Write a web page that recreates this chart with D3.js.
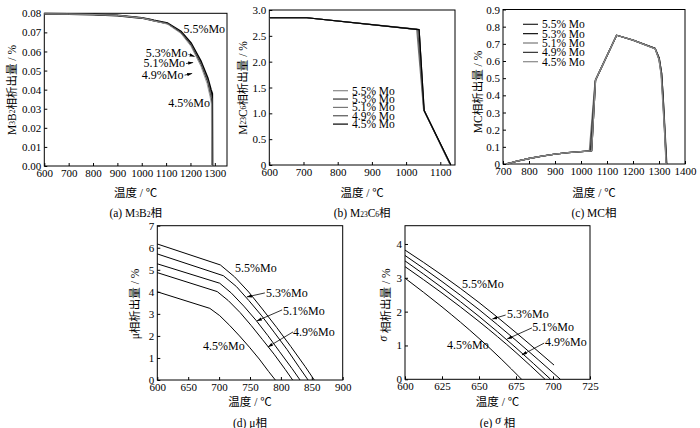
<!DOCTYPE html>
<html><head><meta charset="utf-8">
<script src="https://cdn.jsdelivr.net/npm/d3@7"></script>
<style>
body{margin:0;background:#fff}
text{font-family:"Liberation Serif","Times New Roman","Noto Sans CJK SC",serif;fill:#000}
</style>
</head><body>
<svg id="c" width="700" height="428"></svg>
<script>
// ---------- DATA ----------
const moNames = ["5.5%Mo","5.3%Mo","5.1%Mo","4.9%Mo","4.5%Mo"];
const moLegend = ["5.5% Mo","5.3% Mo","5.1% Mo","4.9% Mo","4.5% Mo"];

// (a) M3B2 phase: [temperature, amount %]
const m3b2_55 = [[600,0.0797],[700,0.0796],[800,0.0794],[900,0.0789],[1000,0.0776],[1032,0.0768],[1050,0.0762],[1106,0.0748],[1161,0.0704],[1202,0.0643],[1243,0.0547],[1271,0.0459],[1284,0.0398],[1289,0.0380],[1290,0]];
const m3b2_53 = [[600,0.0797],[700,0.0796],[800,0.0794],[900,0.0789],[1000,0.0776],[1032,0.0768],[1050,0.0762],[1106,0.0747],[1161,0.0702],[1202,0.0640],[1243,0.0542],[1271,0.0452],[1284,0.0385],[1288,0.0362],[1289,0]];
const m3b2_51 = [[600,0.0797],[700,0.0796],[800,0.0794],[900,0.0789],[1000,0.0776],[1032,0.0768],[1050,0.0761],[1106,0.0746],[1161,0.0700],[1202,0.0637],[1243,0.0537],[1271,0.0445],[1283,0.0378],[1288,0.0350],[1289,0]];
const m3b2_49 = [[600,0.0797],[700,0.0796],[800,0.0794],[900,0.0789],[1000,0.0776],[1032,0.0767],[1050,0.0761],[1106,0.0745],[1161,0.0698],[1202,0.0633],[1243,0.0531],[1270,0.0440],[1282,0.0370],[1287,0.0340],[1288,0]];
const m3b2_45 = [[600,0.0797],[700,0.0796],[800,0.0794],[900,0.0789],[1000,0.0775],[1032,0.0766],[1050,0.0760],[1106,0.0743],[1161,0.0694],[1202,0.0627],[1243,0.0522],[1268,0.0432],[1280,0.0365],[1286,0.0325],[1287,0]];

// (b) M23C6 phase
const m23c6_55 = [[600,2.85],[710,2.85],[1038,2.62],[1053,1.05],[1131,0]];
const m23c6_53 = [[600,2.85],[710,2.85],[1038,2.62],[1052,1.06],[1130,0]];
const m23c6_51 = [[600,2.85],[710,2.85],[1031,2.63],[1051,1.08],[1129,0]];
const m23c6_49 = [[600,2.85],[710,2.85],[1034,2.62],[1052,1.07],[1130,0]];
const m23c6_45 = [[600,2.85],[710,2.85],[1038,2.62],[1053,1.05],[1131,0]];

// (c) MC phase
const mc_55 = [[713,0],[750,0.015],[800,0.032],[850,0.046],[900,0.057],[950,0.066],[1000,0.072],[1041,0.077],[1056,0.49],[1137,0.75],[1200,0.722],[1285,0.674],[1301,0.616],[1310,0.53],[1316,0.39],[1323,0.2],[1330,0]];
const mc_53 = [[713,0],[750,0.015],[800,0.032],[850,0.046],[900,0.057],[950,0.066],[1000,0.072],[1041,0.077],[1056,0.49],[1137,0.75],[1200,0.722],[1285,0.673],[1301,0.614],[1310,0.528],[1316,0.385],[1322,0.2],[1329,0]];
const mc_51 = [[713,0],[750,0.015],[800,0.032],[850,0.046],[900,0.057],[950,0.066],[1000,0.072],[1032,0.076],[1054,0.48],[1137,0.75],[1200,0.722],[1285,0.672],[1300,0.612],[1309,0.525],[1315,0.38],[1322,0.2],[1328,0]];
const mc_49 = [[713,0],[750,0.015],[800,0.032],[850,0.046],[900,0.057],[950,0.066],[1000,0.072],[1036,0.077],[1055,0.485],[1137,0.75],[1200,0.722],[1285,0.672],[1300,0.61],[1309,0.52],[1315,0.375],[1321,0.2],[1328,0]];
const mc_45 = [[713,0],[750,0.015],[800,0.032],[850,0.046],[900,0.057],[950,0.066],[1000,0.072],[1041,0.077],[1056,0.49],[1137,0.75],[1200,0.722],[1285,0.671],[1300,0.608],[1308,0.52],[1314,0.37],[1321,0.2],[1327,0]];

// (d) mu phase
const mu_55 = [[600,6.17],[702,5.22],[725,4.68],[748,3.99],[770,3.22],[793,2.39],[816,1.52],[839,0.62],[854,0]];
const mu_53 = [[600,5.72],[707,4.73],[728,4.24],[748,3.61],[769,2.91],[789,2.17],[810,1.38],[830,0.56],[844,0]];
const mu_51 = [[600,5.27],[701,4.39],[720,3.94],[740,3.35],[760,2.70],[779,2.01],[798,1.28],[818,0.52],[831,0]];
const mu_49 = [[600,4.87],[697,4.01],[715,3.60],[734,3.06],[752,2.47],[770,1.84],[789,1.17],[807,0.48],[819,0]];
const mu_45 = [[600,4.00],[685,3.25],[701,2.92],[717,2.48],[733,2.00],[749,1.49],[765,0.95],[780,0.39],[791,0]];

// (e) sigma phase
const sig_55 = [[600,3.82],[625,3.08],[650,2.27],[675,1.38],[700.7,0.42]];
const sig_53 = [[600,3.66],[625,2.89],[650,2.06],[675,1.15],[705,0]];
const sig_51 = [[600,3.50],[625,2.71],[650,1.86],[675,0.93],[698.4,0]];
const sig_49 = [[600,3.33],[625,2.55],[650,1.71],[675,0.79],[694.6,0]];
const sig_45 = [[600,2.99],[625,2.14],[650,1.21],[665,0.60],[678.8,0]];

// ticks
const aXTicks = [600,700,800,900,1000,1100,1200,1300];
const aYTicks = [0,0.01,0.02,0.03,0.04,0.05,0.06,0.07,0.08];
const bXTicks = [600,700,800,900,1000,1100];
const bYTicks = [0,0.5,1.0,1.5,2.0,2.5,3.0];
const cXTicks = [700,800,900,1000,1100,1200,1300,1400];
const cYTicks = [0,0.1,0.2,0.3,0.4,0.5,0.6,0.7,0.8,0.9];
const dXTicks = [600,650,700,750,800,850,900];
const dYTicks = [0,1,2,3,4,5,6,7];
const eXTicks = [600,625,650,675,700,725];
const eYTicks = [0,1,2,3,4];

// ---------- DRAW ----------
const svg = d3.select("#c");
const defs = svg.append("defs");
defs.append("marker").attr("id","arr").attr("viewBox","0 0 6 4").attr("refX",6).attr("refY",2)
  .attr("markerWidth",5).attr("markerHeight",3.4).attr("markerUnits","userSpaceOnUse").attr("orient","auto")
  .append("path").attr("d","M0,0L6,2L0,4Z").attr("fill","#000");

const fmt1 = d => d === 0 ? "0" : d3.format(".1f")(d);

function richText(sel, parts, size) {
  let pending = 0;
  parts.forEach(p => {
    let ts;
    if (typeof p === "string") { ts = sel.append("tspan").style("font-size", size).text(p); }
    else if (p.sub) { ts = sel.append("tspan").style("font-size","7.5px").text(p.sub); }
    else { ts = sel.append("tspan").style("font-size", size).attr("font-style","italic").text(p.it); }
    let dy = pending;
    if (p.sub) { dy += 2.5; pending = -2.5; } else { pending = 0; }
    if (dy) ts.attr("dy", dy);
  });
}

function panel(p) {
  const [l,r,t,b] = p.box;
  const x = d3.scaleLinear().domain(p.xDomain).range([l,r]);
  const y = d3.scaleLinear().domain(p.yDomain).range([b,t]);
  const g = svg.append("g");
  const gx = g.append("g").attr("transform",`translate(0,${b})`)
    .call(d3.axisBottom(x).tickValues(p.xTicks).tickSizeInner(-3).tickSizeOuter(0).tickPadding(3).tickFormat(p.xFmt || d3.format("d")));
  const gy = g.append("g").attr("transform",`translate(${l},0)`)
    .call(d3.axisLeft(y).tickValues(p.yTicks).tickSizeInner(-3).tickSizeOuter(0).tickPadding(3).tickFormat(p.yFmt));
  [gx,gy].forEach(a => {
    a.select(".domain").remove();
    a.attr("font-family",null).attr("font-size",null);
    a.selectAll("text").style("font-size","11px");
    a.selectAll("line").attr("stroke","#000");
  });
  g.append("rect").attr("x",l).attr("y",t).attr("width",r-l).attr("height",b-t)
    .attr("fill","none").attr("stroke","#000").attr("stroke-width",1);
  const line = d3.line().x(d=>x(d[0])).y(d=>y(d[1])).curve(p.curve || d3.curveLinear);
  p.series.forEach((s,i) => {
    g.append("path").datum(s).attr("d",line).attr("fill","none")
      .attr("stroke",p.colors[i]).attr("stroke-width",p.widths[i]).attr("stroke-linejoin","round");
  });
  // axis titles
  g.append("text").attr("x",(l+r)/2).attr("y",p.xLabelY).attr("text-anchor","middle").style("font-size","11.5px").text("温度 / ℃");
  const yl = g.append("text").attr("transform",`translate(${p.yLabelX},${p.yLabelCY}) rotate(-90)`)
    .attr("text-anchor","middle").attr("dominant-baseline","central").style("font-size","11.5px");
  richText(yl, p.yLabel, "11.5px");
  const cap = g.append("text").attr("x",(l+r)/2).attr("y",p.capY).attr("text-anchor","middle").style("font-size","11.5px");
  richText(cap, p.caption, "11.5px");
  // annotations
  (p.notes||[]).forEach(n => {
    g.append("text").attr("x",x(n.x)).attr("y",y(n.y)).attr("text-anchor",n.anchor||"start")
      .style("font-size","12px").text(n.t);
    if (n.arrow) {
      g.append("line").attr("x1",x(n.arrow[0])).attr("y1",y(n.arrow[1])).attr("x2",x(n.arrow[2])).attr("y2",y(n.arrow[3]))
        .attr("stroke","#000").attr("stroke-width",0.8).attr("marker-end","url(#arr)");
    }
  });
  // legend
  if (p.legend) {
    const [lx,ly,dy] = p.legend;
    p.colors.forEach((c,i) => {
      g.append("line").attr("x1",lx).attr("x2",lx+15).attr("y1",ly+i*dy).attr("y2",ly+i*dy)
        .attr("stroke",c).attr("stroke-width",1.2);
      g.append("text").attr("x",lx+19).attr("y",ly+i*dy).attr("dominant-baseline","central")
        .style("font-size","11.5px").text(moLegend[i]);
    });
  }
  return {x,y,g};
}

panel({
  box:[44.3,227,13.3,166], xDomain:[600,1350], yDomain:[0,0.08],
  xTicks:aXTicks, yTicks:aYTicks, yFmt:d3.format(".2f"),
  series:[m3b2_55,m3b2_53,m3b2_51,m3b2_49,m3b2_45],
  colors:["#000","#222","#777","#333","#999"], widths:[2,0.9,0.9,0.9,0.9],
  xLabelY:197, yLabelX:9, yLabelCY:90, capY:214,
  yLabel:["M",{sub:"3"},"B",{sub:"2"},"相析出量 / %"],
  caption:["(a)  M",{sub:"3"},"B",{sub:"2"},"相"],
  notes:[
    {t:moNames[0], x:1171, y:0.0697},
    {t:moNames[1], x:1188, y:0.0569, anchor:"end", arrow:[1192,0.0584,1217,0.0574]},
    {t:moNames[2], x:1178, y:0.0517, anchor:"end", arrow:[1182,0.0537,1211,0.0542]},
    {t:moNames[3], x:1171, y:0.0456, anchor:"end", arrow:[1176,0.0476,1207,0.0485]},
    {t:moNames[4], x:1109, y:0.0307}
  ]
});

panel({
  box:[269.3,455,10,165], xDomain:[600,1143], yDomain:[0,3],
  xTicks:bXTicks, yTicks:bYTicks, yFmt:fmt1,
  series:[m23c6_55,m23c6_53,m23c6_51,m23c6_49,m23c6_45],
  colors:["#888","#333","#777","#555","#000"], widths:[1.2,1.2,1.2,1.2,1.2],
  xLabelY:197, yLabelX:240, yLabelCY:88, capY:214,
  yLabel:["M",{sub:"23"},"C",{sub:"6"},"相析出量 / %"],
  caption:["(b)  M",{sub:"23"},"C",{sub:"6"},"相"],
  legend:[333,90.7,8.35]
});

panel({
  box:[503,685,9.5,164], xDomain:[700,1400], yDomain:[0,0.9],
  xTicks:cXTicks, yTicks:cYTicks, yFmt:fmt1,
  series:[mc_55,mc_53,mc_51,mc_49,mc_45],
  colors:["#222","#111","#777","#333","#888"], widths:[1.3,1.3,1.3,1.3,1.3],
  xLabelY:197, yLabelX:475, yLabelCY:92, capY:214,
  yLabel:["MC相析出量 / %"],
  caption:["(c)  MC相"],
  legend:[523,24.3,9.35]
});

panel({
  box:[157.3,342.7,225.7,380], xDomain:[600,900], yDomain:[0,7],
  xTicks:dXTicks, yTicks:dYTicks, yFmt:d3.format("d"),
  series:[mu_55,mu_53,mu_51,mu_49,mu_45],
  colors:["#000","#000","#000","#000","#000"], widths:[1,1,1,1,1],
  xLabelY:406, yLabelX:132, yLabelCY:304, capY:424,
  yLabel:["μ相析出量 / %"],
  caption:["(d)  μ相"],
  notes:[
    {t:moNames[0], x:725.7, y:4.90},
    {t:moNames[1], x:776, y:3.77, arrow:[774,3.95,745,3.77]},
    {t:moNames[2], x:803.5, y:2.95, arrow:[802,3.18,761,2.68]},
    {t:moNames[3], x:819.6, y:2.0, arrow:[819.6,2.18,779,1.50]},
    {t:moNames[4], x:674, y:1.36}
  ]
});

panel({
  box:[405,590,225.7,379.3], xDomain:[600,725], yDomain:[0,4.54],
  xTicks:eXTicks, yTicks:eYTicks, yFmt:d3.format("d"),
  series:[sig_55,sig_53,sig_51,sig_49,sig_45], curve:d3.curveMonotoneX,
  colors:["#000","#000","#000","#000","#000"], widths:[1,1,1,1,1],
  xLabelY:406, yLabelX:383, yLabelCY:305, capY:424,
  yLabel:[{it:"σ"}," 相析出量 / %"],
  caption:["(e)  ",{it:"σ"}," 相"],
  notes:[
    {t:moNames[0], x:638.5, y:2.70},
    {t:moNames[1], x:669, y:1.81, arrow:[668,1.90,659,1.78]},
    {t:moNames[2], x:686, y:1.43, arrow:[685.8,1.52,669,1.19]},
    {t:moNames[3], x:694.6, y:0.98, arrow:[694,1.07,679,0.72]},
    {t:moNames[4], x:628.4, y:0.90}
  ]
});
</script>
</body></html>
